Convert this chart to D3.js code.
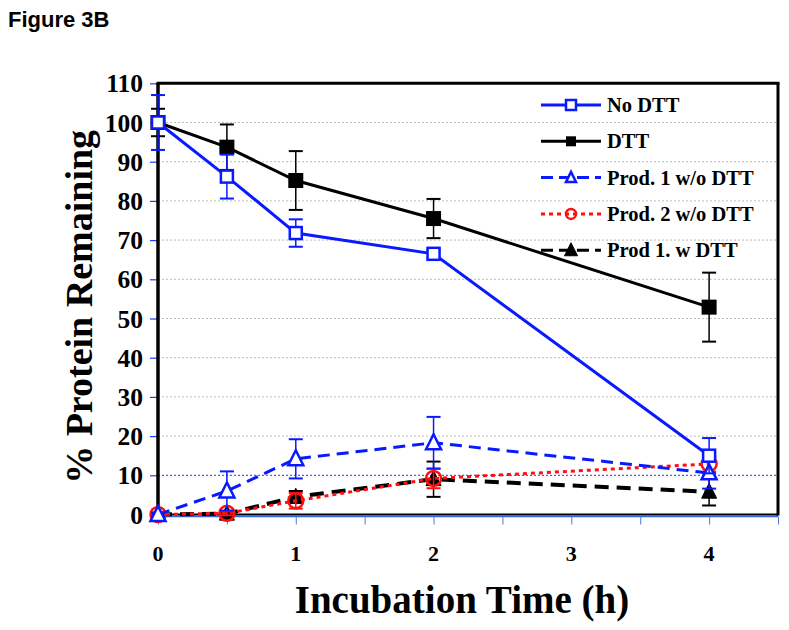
<!DOCTYPE html>
<html><head><meta charset="utf-8">
<script src="https://cdn.jsdelivr.net/npm/d3@7"></script>
<style>body{margin:0;background:#fff}</style>
</head><body>
<script>
const times = [0, 0.5, 1, 2, 4];
const seriesNames = ["No DTT", "DTT", "Prod. 1 w/o DTT", "Prod. 2 w/o DTT", "Prod 1. w DTT"];
const noDTT = [100, 86.2, 71.8, 66.5, 15];
const noDTTErr = [7, 5.6, 3.5, 1, 4.5];
const dtt = [100, 93.7, 85.2, 75.5, 52.9];
const dttErr = [3.5, 5.8, 7.5, 5, 8.8];
const prod1NoDTT = [0, 6, 14.2, 18.3, 10.6];
const prod1NoDTTErr = [0.5, 5, 5, 6.6, 4];
const prod2NoDTT = [0, 0.3, 3.5, 9.2, 12.9];
const prod2NoDTTErr = [0.5, 0.5, 2, 2.5, 2];
const prod1DTT = [0, 0.2, 4.5, 9, 5.8];
const prod1DTTErr = [0.3, 0.3, 1.5, 4.5, 3.5];
const yTicks = [0,10,20,30,40,50,60,70,80,90,100,110];
const xTickLabels = [0,1,2,3,4];
const xMinorTicks = [0,0.5,1,1.5,2,2.5,3,3.5,4,4.5];

(function(){
const W = 789, H = 630;
const svg = d3.select("body").append("svg").attr("width", W).attr("height", H);
const pL = 158, pR = 778, pT = 83.3, pB = 514.5;
const x = d3.scaleLinear().domain([0, 4.5]).range([pL, pR]);
const y = d3.scaleLinear().domain([0, 110]).range([pB, pT]);
const serif = "'Liberation Serif', 'Times New Roman', serif";

svg.append("text").attr("x", 8).attr("y", 27).attr("font-family", "'Liberation Sans', Arial, sans-serif")
  .attr("font-weight", "bold").attr("font-size", 22).text("Figure 3B");

// gridlines
svg.append("g").selectAll("line").data(yTicks.filter(d => d > 0 && d < 110)).join("line")
  .attr("x1", pL).attr("x2", pR).attr("y1", d => y(d)).attr("y2", d => y(d))
  .attr("stroke", d => d === 10 ? "#3030ff" : "#bdbdbd").attr("stroke-width", 1)
  .attr("stroke-dasharray", "2,2");

// y axis ticks
const yAxis = d3.axisLeft(y).tickValues(yTicks).tickSize(8).tickFormat(d3.format("d"));
const gy = svg.append("g").attr("transform", `translate(${pL},0)`).call(yAxis);
gy.select(".domain").remove();
gy.selectAll(".tick line").attr("stroke", "#1a3cff").attr("stroke-width", 1.2);
gy.selectAll(".tick text").attr("font-family", serif).attr("font-weight", "bold")
  .attr("font-size", 25.5).attr("fill", "#000").attr("x", -15).attr("dy", "0.34em");

// x axis
const xAxis = d3.axisBottom(x).tickValues(xMinorTicks).tickSize(8).tickFormat("");
const gx = svg.append("g").attr("transform", `translate(0,${pB + 2})`).call(xAxis);
gx.select(".domain").attr("stroke", "#3366dd").attr("stroke-width", 1.5).attr("d", `M${pL},0H${pR}`);
gx.selectAll(".tick line").attr("stroke", "#5577dd").attr("stroke-width", 1);
svg.append("g").selectAll("text").data(xTickLabels).join("text")
  .attr("x", d => x(d)).attr("y", 561).attr("text-anchor", "middle")
  .attr("font-family", serif).attr("font-weight", "bold").attr("font-size", 22).text(d => d);

// frame
svg.append("line").attr("x1", pL).attr("x2", pR).attr("y1", pB).attr("y2", pB).attr("stroke", "#000").attr("stroke-width", 2);
svg.append("line").attr("x1", pL - 1.5).attr("x2", pR + 1.5).attr("y1", pT).attr("y2", pT).attr("stroke", "#000").attr("stroke-width", 3);
svg.append("line").attr("x1", pL).attr("x2", pL).attr("y1", pT).attr("y2", pB + 2).attr("stroke", "#000").attr("stroke-width", 3.5);
svg.append("line").attr("x1", pR).attr("x2", pR).attr("y1", pT).attr("y2", pB + 1).attr("stroke", "#000").attr("stroke-width", 3);

// axis titles
svg.append("text").attr("transform", `translate(92,${(pT + pB) / 2 + 8}) rotate(-90)`)
  .attr("text-anchor", "middle").attr("font-family", serif).attr("font-weight", "bold")
  .attr("font-size", 38).text("% Protein Remaining");
svg.append("text").attr("x", 462).attr("y", 613).attr("text-anchor", "middle")
  .attr("font-family", serif).attr("font-weight", "bold").attr("font-size", 39).text("Incubation Time (h)");

const series = [
  {name: seriesNames[4], vals: prod1DTT, err: prod1DTTErr, color: "#000", dash: "14,8", w: 4, marker: "triF"},
  {name: seriesNames[3], vals: prod2NoDTT, err: prod2NoDTTErr, color: "#ff1010", dash: "4,4", w: 3, marker: "circ"},
  {name: seriesNames[2], vals: prod1NoDTT, err: prod1NoDTTErr, color: "#0a1aff", dash: "12,7", w: 3, marker: "triO"},
  {name: seriesNames[1], vals: dtt, err: dttErr, color: "#000", dash: null, w: 3, marker: "sqF"},
  {name: seriesNames[0], vals: noDTT, err: noDTTErr, color: "#0a1aff", dash: null, w: 3, marker: "sqO"},
];

function drawMarker(g, type, cx, cy, color, s) {
  if (type === "sqO") g.append("rect").attr("x", cx - s/2).attr("y", cy - s/2).attr("width", s).attr("height", s).attr("fill", "#fff").attr("stroke", color).attr("stroke-width", 2.5);
  else if (type === "sqF") g.append("rect").attr("x", cx - s/2).attr("y", cy - s/2).attr("width", s).attr("height", s).attr("fill", color);
  else if (type === "circ") g.append("circle").attr("cx", cx).attr("cy", cy).attr("r", s/2).attr("fill", "none").attr("stroke", color).attr("stroke-width", 2.5);
  else {
    const h = s * 0.95;
    const p = `M${cx},${cy - h*0.6}L${cx + s/2},${cy + h*0.45}L${cx - s/2},${cy + h*0.45}Z`;
    g.append("path").attr("d", p).attr("fill", type === "triF" ? color : "#fff").attr("stroke", color).attr("stroke-width", type === "triF" ? 1 : 2.5);
  }
}

const line = d3.line().x(d => x(d[0])).y(d => y(d[1]));
series.forEach(s => {
  const g = svg.append("g");
  const pts = times.map((t, i) => [t, s.vals[i], s.err[i]]);
  const eb = g.append("g").attr("stroke", s.color).attr("stroke-width", 1.5);
  pts.forEach(p => {
    const cx = x(p[0]);
    eb.append("line").attr("x1", cx).attr("x2", cx).attr("y1", y(p[1] + p[2])).attr("y2", y(p[1] - p[2]));
    eb.append("line").attr("x1", cx - 7).attr("x2", cx + 7).attr("y1", y(p[1] + p[2])).attr("y2", y(p[1] + p[2])).attr("stroke-width", 2);
    eb.append("line").attr("x1", cx - 7).attr("x2", cx + 7).attr("y1", y(p[1] - p[2])).attr("y2", y(p[1] - p[2])).attr("stroke-width", 2);
  });
  g.append("path").datum(pts).attr("d", line).attr("fill", "none").attr("stroke", s.color)
    .attr("stroke-width", s.w).attr("stroke-dasharray", s.dash);
  const size = s.marker === "sqO" ? 12 : 15;
  pts.forEach(p => drawMarker(g, s.marker, x(p[0]), y(p[1]), s.color, size));
});

// legend
const legOrder = [series[4], series[3], series[2], series[1], series[0]];
const lg = svg.append("g");
legOrder.forEach((s, i) => {
  const ly = 105 + i * 36.3;
  lg.append("line").attr("x1", 541).attr("x2", 601).attr("y1", ly).attr("y2", ly)
    .attr("stroke", s.color).attr("stroke-width", 3).attr("stroke-dasharray", s.dash ? (s.marker === "circ" ? "4,4" : "12,6") : null);
  drawMarker(lg, s.marker, 571, ly, s.color, s.marker === "triF" ? 13 : 10);
  lg.append("text").attr("x", 607).attr("y", ly + 7).attr("font-family", serif).attr("font-weight", "bold")
    .attr("font-size", 20.5).text(s.name);
});
})();
</script>
</body></html>
